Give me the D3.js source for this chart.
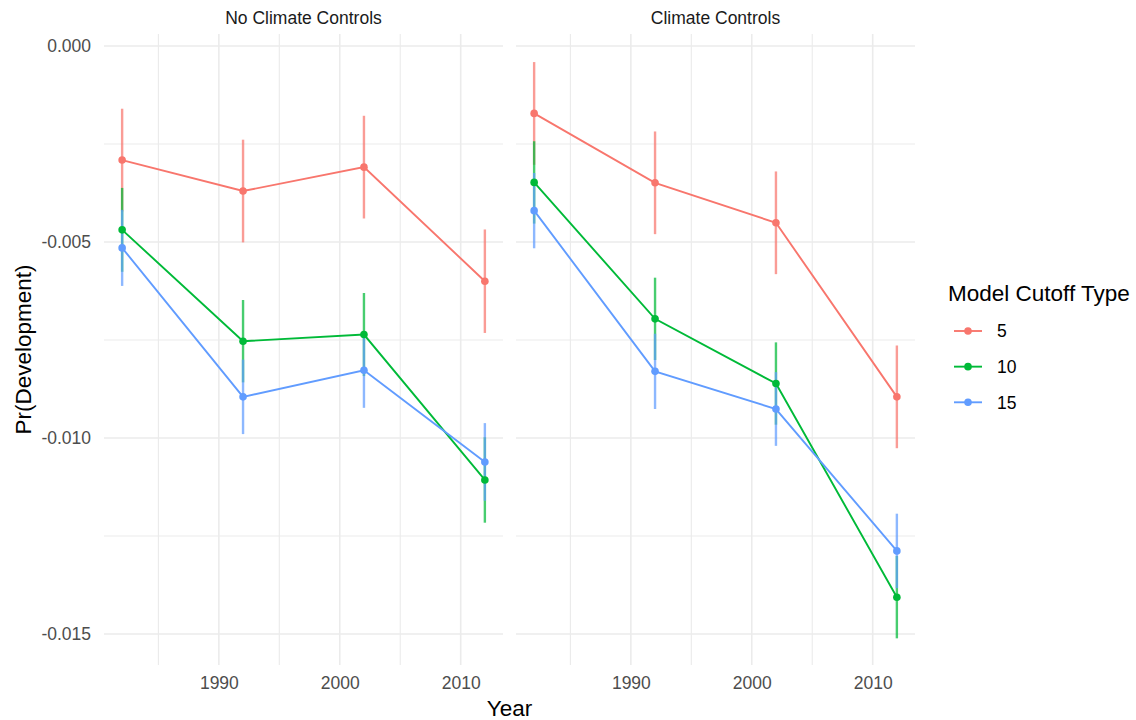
<!DOCTYPE html>
<html>
<head>
<meta charset="utf-8">
<script src="https://cdn.jsdelivr.net/npm/d3@7"></script>
<style>
  html, body { margin: 0; padding: 0; background: #fff; }
  svg { display: block; font-family: "Liberation Sans", Arial, Helvetica, sans-serif; }
</style>
</head>
<body>
<svg id="chart" width="1136" height="720"></svg>
<script>
// ---- data ----
const years = [1982, 1992, 2002, 2012];
const panels = ["No Climate Controls", "Climate Controls"];
const cutoffs = ["5", "10", "15"];
const colors = ["#F8766D", "#00BA38", "#619CFF"];

// estimates, no climate controls
const noClim5  = [-0.00291, -0.00370, -0.00309, -0.00600];
const noClim10 = [-0.00469, -0.00753, -0.00736, -0.01107];
const noClim15 = [-0.00515, -0.00895, -0.00827, -0.01061];
// estimates, climate controls
const clim5  = [-0.00172, -0.00349, -0.00451, -0.00895];
const clim10 = [-0.00348, -0.00696, -0.00861, -0.01406];
const clim15 = [-0.00420, -0.00830, -0.00926, -0.01288];

// half-widths of the confidence intervals
const noClimErr5  = [0.00131, 0.00131, 0.00131, 0.00132];
const noClimErr10 = [0.00107, 0.00105, 0.00106, 0.00109];
const noClimErr15 = [0.00097, 0.00095, 0.00096, 0.00099];
const climErr5  = [0.00131, 0.00131, 0.00131, 0.00131];
const climErr10 = [0.00105, 0.00105, 0.00105, 0.00105];
const climErr15 = [0.00096, 0.00096, 0.00094, 0.00095];

const yTicks = [0, -0.005, -0.010, -0.015];
const yTickLabels = ["0.000", "-0.005", "-0.010", "-0.015"];
const yMinor = [-0.0025, -0.0075, -0.0125];
const xTicks = [1990, 2000, 2010];
const xTickLabels = ["1990", "2000", "2010"];
const xMinor = [1985, 1995, 2005];

const seriesByPanel = [
  [noClim5, noClim10, noClim15],
  [clim5, clim10, clim15]
];
const errByPanel = [
  [noClimErr5, noClimErr10, noClimErr15],
  [climErr5, climErr10, climErr15]
];

// ---- layout ----
const svg = d3.select("#chart");
const panelRanges = [[104, 503], [516, 915]];
const panelTop = 34, panelBottom = 665;

const y = d3.scaleLinear().domain([-0.01579, 0.000306]).range([panelBottom, panelTop]);

const gridColor = "#ebebeb";
const axisFont = 17.5;

panels.forEach((title, p) => {
  const x = d3.scaleLinear().domain([1980.5, 2013.5]).range(panelRanges[p]);
  const g = svg.append("g");

  // minor grid
  g.selectAll(".ymin").data(yMinor).join("line")
    .attr("x1", x.range()[0]).attr("x2", x.range()[1])
    .attr("y1", d => y(d)).attr("y2", d => y(d))
    .attr("stroke", gridColor).attr("stroke-width", 1.1);
  g.selectAll(".xmin").data(xMinor).join("line")
    .attr("y1", panelTop).attr("y2", panelBottom)
    .attr("x1", d => x(d)).attr("x2", d => x(d))
    .attr("stroke", gridColor).attr("stroke-width", 1.1);
  // major grid
  g.selectAll(".ymaj").data(yTicks).join("line")
    .attr("x1", x.range()[0]).attr("x2", x.range()[1])
    .attr("y1", d => y(d)).attr("y2", d => y(d))
    .attr("stroke", gridColor).attr("stroke-width", 1.6);
  g.selectAll(".xmaj").data(xTicks).join("line")
    .attr("y1", panelTop).attr("y2", panelBottom)
    .attr("x1", d => x(d)).attr("x2", d => x(d))
    .attr("stroke", gridColor).attr("stroke-width", 1.6);

  // strip title
  svg.append("text")
    .attr("x", (panelRanges[p][0] + panelRanges[p][1]) / 2)
    .attr("y", 24)
    .attr("text-anchor", "middle")
    .attr("font-size", 17.5)
    .attr("fill", "#1a1a1a")
    .text(title);

  // x axis
  const xAxis = d3.axisBottom(x)
    .tickValues(xTicks)
    .tickFormat((d, i) => xTickLabels[i])
    .tickSize(0).tickPadding(11.6);
  const xg = svg.append("g").attr("transform", `translate(0,${panelBottom})`).call(xAxis);
  xg.select(".domain").remove();
  xg.selectAll("text").attr("font-size", axisFont).attr("fill", "#4d4d4d")
    .attr("font-family", "Liberation Sans, Arial, sans-serif");

  // series
  const series = seriesByPanel[p];
  const errs = errByPanel[p];
  const line = d3.line().x((d, i) => x(years[i])).y(d => y(d));

  series.forEach((vals, s) => {
    g.append("path").datum(vals)
      .attr("d", line)
      .attr("fill", "none")
      .attr("stroke", colors[s])
      .attr("stroke-width", 1.9);
  });
  series.forEach((vals, s) => {
    g.selectAll(null).data(vals).join("line")
      .attr("x1", (d, i) => x(years[i])).attr("x2", (d, i) => x(years[i]))
      .attr("y1", (d, i) => y(d + errs[s][i]))
      .attr("y2", (d, i) => y(d - errs[s][i]))
      .attr("stroke", colors[s])
      .attr("stroke-opacity", 0.72)
      .attr("stroke-width", 2.4);
  });
  series.forEach((vals, s) => {
    g.selectAll(null).data(vals).join("circle")
      .attr("cx", (d, i) => x(years[i]))
      .attr("cy", d => y(d))
      .attr("r", 3.8)
      .attr("fill", colors[s]);
  });
});

// y axis (left panel only)
const yAxis = d3.axisLeft(y)
  .tickValues(yTicks)
  .tickFormat((d, i) => yTickLabels[i])
  .tickSize(0).tickPadding(13);
const yg = svg.append("g").attr("transform", `translate(${panelRanges[0][0]},0)`).call(yAxis);
yg.select(".domain").remove();
yg.selectAll("text").attr("font-size", axisFont).attr("fill", "#4d4d4d")
  .attr("font-family", "Liberation Sans, Arial, sans-serif");

// axis titles
svg.append("text")
  .attr("x", (panelRanges[0][0] + panelRanges[1][1]) / 2)
  .attr("y", 716)
  .attr("text-anchor", "middle")
  .attr("font-size", 22.5)
  .attr("fill", "#000")
  .text("Year");

svg.append("text")
  .attr("transform", `translate(31,${(panelTop + panelBottom) / 2}) rotate(-90)`)
  .attr("text-anchor", "middle")
  .attr("font-size", 22.5)
  .attr("fill", "#000")
  .text("Pr(Development)");

// legend
const legend = svg.append("g");
legend.append("text")
  .attr("x", 948).attr("y", 301)
  .attr("font-size", 22.5)
  .attr("fill", "#000")
  .text("Model Cutoff Type");

const keyY = d3.scalePoint().domain(cutoffs).range([331, 402.3]);
cutoffs.forEach((c, i) => {
  const ky = keyY(c);
  legend.append("line")
    .attr("x1", 954).attr("x2", 982).attr("y1", ky).attr("y2", ky)
    .attr("stroke", colors[i]).attr("stroke-width", 1.9);
  legend.append("circle")
    .attr("cx", 968).attr("cy", ky).attr("r", 3.8)
    .attr("fill", colors[i]);
  legend.append("text")
    .attr("x", 997).attr("y", ky + 6.2)
    .attr("font-size", 17.5)
    .attr("fill", "#000")
    .text(c);
});
</script>
</body>
</html>
